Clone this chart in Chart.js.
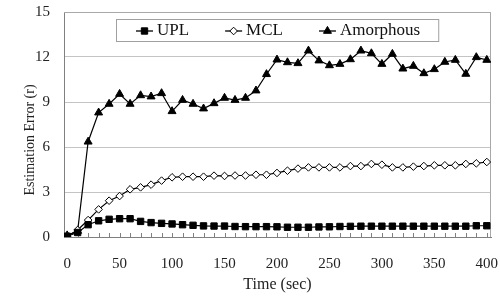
<!DOCTYPE html>
<html>
<head>
<meta charset="utf-8">
<script src="https://cdn.jsdelivr.net/npm/chart.js@4"></script>
<style>
  html, body { margin: 0; padding: 0; background: #fff; }
</style>
</head>
<body>
<canvas id="myChart" width="500" height="297"></canvas>
<script>
const times = [0, 10, 20, 30, 40, 50, 60, 70, 80, 90, 100, 110, 120, 130, 140, 150, 160, 170, 180, 190, 200,
  210, 220, 230, 240, 250, 260, 270, 280, 290, 300, 310, 320, 330, 340, 350, 360, 370, 380, 390, 400];

const upl = [0.05, 0.3, 0.82, 1.08, 1.18, 1.22, 1.22, 1.04, 0.96, 0.91, 0.87, 0.82, 0.78, 0.74, 0.73, 0.73, 0.70, 0.69, 0.69, 0.69, 0.68,
  0.65, 0.65, 0.65, 0.67, 0.68, 0.70, 0.71, 0.72, 0.72, 0.72, 0.72, 0.72, 0.72, 0.72, 0.72, 0.72, 0.72, 0.72, 0.75, 0.75];

const mcl = [0.05, 0.47, 1.13, 1.84, 2.42, 2.73, 3.18, 3.31, 3.49, 3.76, 3.98, 4.02, 4.02, 4.02, 4.09, 4.07, 4.1, 4.1, 4.15, 4.15, 4.27,
  4.42, 4.56, 4.64, 4.64, 4.64, 4.64, 4.73, 4.73, 4.87, 4.82, 4.64, 4.64, 4.69, 4.73, 4.78, 4.78, 4.78, 4.87, 4.91, 5.0];

const amorphous = [0.1, 0.4, 6.35, 8.29, 8.87, 9.53, 8.87, 9.44, 9.36, 9.58, 8.38, 9.13, 8.87, 8.56, 8.91, 9.27, 9.13, 9.27, 9.76, 10.85, 11.82,
  11.64, 11.58, 12.42, 11.76, 11.44, 11.53, 11.84, 12.42, 12.24, 11.53, 12.2, 11.22, 11.4, 10.91, 11.18, 11.67, 11.8, 10.87, 11.98, 11.8];

const seriesNames = ['UPL', 'MCL', 'Amorphous'];
const xTicks = [0, 50, 100, 150, 200, 250, 300, 350, 400];
const yTicks = [0, 3, 6, 9, 12, 15];
const xTitle = 'Time (sec)';
const yTitle = 'Estimation Error (r)';

const serif = '"Liberation Serif", "Times New Roman", serif';

function toPoints(arr) {
  return times.map((t, i) => ({ x: t, y: arr[i] }));
}

function drawMarker(ctx, style, x, y, r, fill, stroke) {
  ctx.beginPath();
  if (style === 'rect') {
    const s = r * Math.SQRT1_2;
    ctx.rect(x - s, y - s, 2 * s, 2 * s);
  } else if (style === 'rectRot') {
    ctx.moveTo(x - r, y);
    ctx.lineTo(x, y - r);
    ctx.lineTo(x + r, y);
    ctx.lineTo(x, y + r);
    ctx.closePath();
  } else {
    const w = r * Math.sin(Math.PI / 3);
    ctx.moveTo(x, y - r);
    ctx.lineTo(x + w, y + r / 2);
    ctx.lineTo(x - w, y + r / 2);
    ctx.closePath();
  }
  ctx.fillStyle = fill;
  ctx.fill();
  ctx.strokeStyle = stroke;
  ctx.lineWidth = 1;
  ctx.stroke();
}

// top/right frame, inward minor ticks and the y title
const framePlugin = {
  id: 'frame',
  beforeDatasetsDraw(chart) {
    const { ctx, chartArea: a, scales: { x } } = chart;
    ctx.save();
    ctx.strokeStyle = '#a8a8a8';
    ctx.lineWidth = 1;
    ctx.beginPath();
    ctx.moveTo(a.left, a.top + 0.5);
    ctx.lineTo(a.right - 0.5, a.top + 0.5);
    ctx.lineTo(a.right - 0.5, a.bottom);
    ctx.stroke();

    ctx.strokeStyle = '#808080';
    ctx.beginPath();
    times.forEach(v => {
      const px = Math.round(x.getPixelForValue(v)) + 0.5;
      ctx.moveTo(px, a.bottom);
      ctx.lineTo(px, a.bottom - 4);
    });
    ctx.stroke();

    ctx.fillStyle = '#222';
    ctx.font = '14px ' + serif;
    ctx.textAlign = 'center';
    ctx.textBaseline = 'middle';
    ctx.translate(30, 140);
    ctx.rotate(-Math.PI / 2);
    ctx.fillText(yTitle, 0, 0);
    ctx.restore();
  }
};

// boxed legend sitting inside the plot area
const legendPlugin = {
  id: 'boxLegend',
  afterDatasetsDraw(chart) {
    const { ctx, chartArea: a } = chart;
    const sets = chart.data.datasets;
    ctx.save();
    ctx.font = '17px ' + serif;
    const lineLen = 17, textGap = 4, itemGap = 36, padL = 20, padR = 18;
    const widths = sets.map(d => lineLen + textGap + ctx.measureText(d.label).width);
    const total = padL + padR + widths.reduce((s, w) => s + w, 0) + itemGap * (sets.length - 1);
    const left = Math.round((a.left + a.right) / 2 - total / 2);
    const top = 19, h = 22, cy = top + h / 2 + 1;

    ctx.fillStyle = '#fff';
    ctx.fillRect(left, top, total, h);
    ctx.strokeStyle = '#a0a0a0';
    ctx.lineWidth = 1;
    ctx.strokeRect(left + 0.5, top + 0.5, total, h);

    let cx = left + padL;
    sets.forEach((d, i) => {
      ctx.strokeStyle = '#000';
      ctx.lineWidth = 1.3;
      ctx.beginPath();
      ctx.moveTo(cx, cy);
      ctx.lineTo(cx + lineLen, cy);
      ctx.stroke();
      drawMarker(ctx, d.pointStyle, cx + lineLen / 2, cy, d.pointRadius, d.pointBackgroundColor, d.pointBorderColor);
      ctx.fillStyle = '#111';
      ctx.textAlign = 'left';
      ctx.textBaseline = 'middle';
      ctx.fillText(d.label, cx + lineLen + textGap, cy);
      cx += widths[i] + itemGap;
    });
    ctx.restore();
  }
};

const data = {
  datasets: [
    {
      label: seriesNames[0],
      data: toPoints(upl),
      borderColor: '#000',
      borderWidth: 1.2,
      pointStyle: 'rect',
      pointRadius: 4.5,
      pointBackgroundColor: '#000',
      pointBorderColor: '#000',
      pointBorderWidth: 1
    },
    {
      label: seriesNames[1],
      data: toPoints(mcl),
      borderColor: '#000',
      borderWidth: 1.2,
      pointStyle: 'rectRot',
      pointRadius: 3.8,
      pointBackgroundColor: '#fff',
      pointBorderColor: '#000',
      pointBorderWidth: 1
    },
    {
      label: seriesNames[2],
      data: toPoints(amorphous),
      borderColor: '#000',
      borderWidth: 1.2,
      pointStyle: 'triangle',
      pointRadius: 4.6,
      pointBackgroundColor: '#000',
      pointBorderColor: '#000',
      pointBorderWidth: 1
    }
  ]
};

const options = {
  responsive: false,
  animation: false,
  layout: {
    padding: { top: 12, right: 9, left: 0, bottom: 0 }
  },
  plugins: {
    legend: { display: false },
    tooltip: { enabled: false }
  },
  scales: {
    x: {
      type: 'linear',
      min: -3,
      max: 404,
      afterBuildTicks: axis => { axis.ticks = xTicks.map(v => ({ value: v })); },
      afterFit: scale => {
        scale.height = 60;
        scale.paddingLeft = 0;
        scale.paddingRight = 0;
      },
      grid: { display: false, drawTicks: false },
      border: { display: true, color: '#808080', width: 1 },
      ticks: {
        padding: 18,
        color: '#222',
        font: { family: serif, size: 15 }
      },
      title: {
        display: true,
        text: xTitle,
        color: '#222',
        font: { family: serif, size: 16 },
        padding: { top: 0, bottom: 3 }
      }
    },
    y: {
      min: 0,
      max: 15,
      afterBuildTicks: axis => { axis.ticks = yTicks.map(v => ({ value: v })); },
      afterFit: scale => {
        scale.width = 64;
        scale.paddingTop = 0;
        scale.paddingBottom = 0;
      },
      grid: { color: '#c4c4c4', drawTicks: false },
      border: { display: true, color: '#808080', width: 1 },
      ticks: {
        padding: 14,
        color: '#222',
        font: { family: serif, size: 15 }
      }
    }
  }
};

const chart = new Chart('myChart', {
  type: 'line',
  data: data,
  options: options,
  plugins: [framePlugin, legendPlugin]
});
</script>
</body>
</html>
